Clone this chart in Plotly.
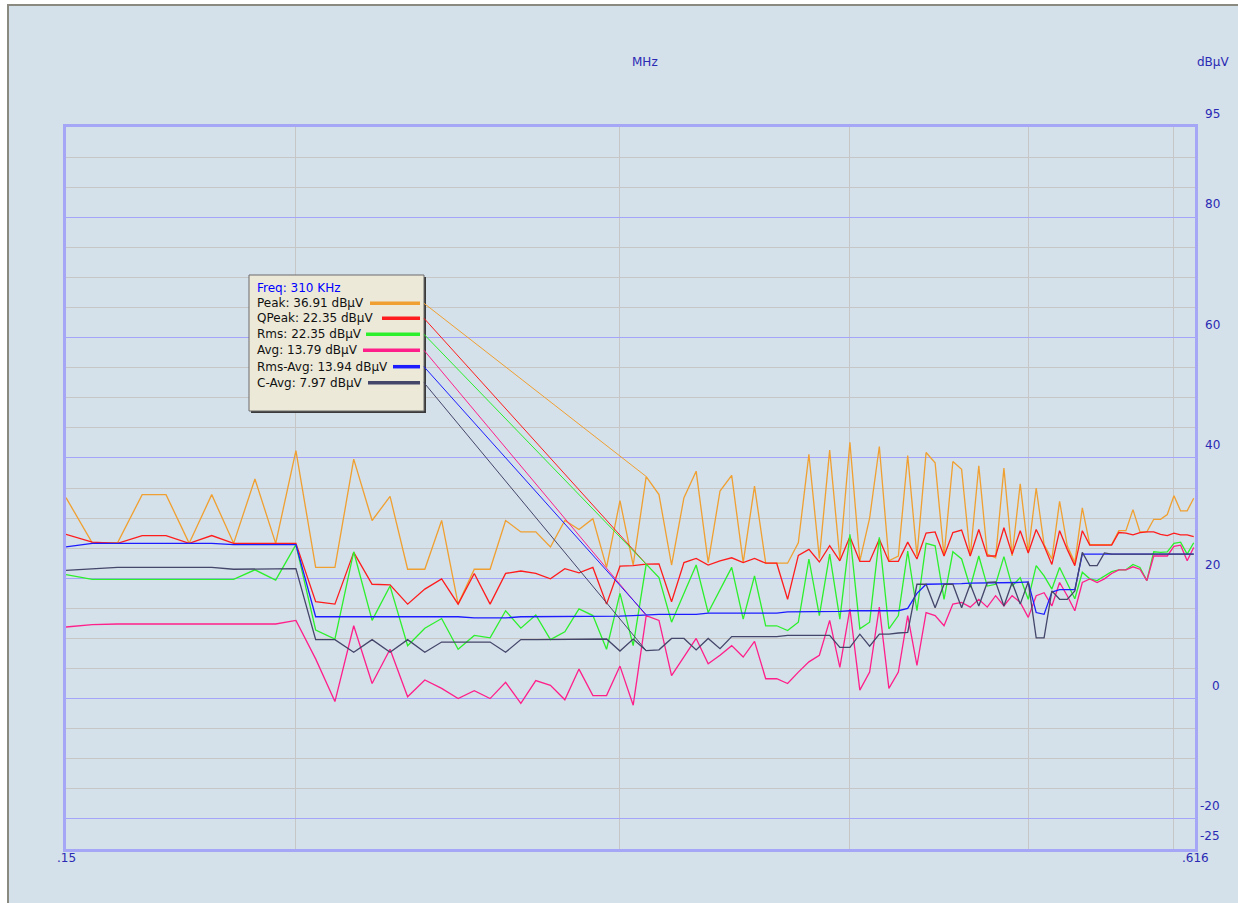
import math
import plotly.graph_objects as go

# ---------------- data ----------------
freq_khz = [150, 155, 160, 165, 170, 175, 180, 185, 190, 195,
            200, 205, 210, 215, 220, 225, 230, 235, 240, 245,
            250, 255, 260, 265, 270, 275, 280, 285, 290, 295,
            300, 305, 310, 315, 320, 325, 330, 335, 340, 345,
            350, 355, 360, 365, 370, 375, 380, 385, 390, 395,
            400, 405, 410, 415, 420, 425, 430, 435, 440, 445,
            450, 455, 460, 465, 470, 475, 480, 485, 490, 495,
            500, 505, 510, 515, 520, 525, 530, 535, 540, 545,
            550, 555, 560, 565, 570, 575, 580, 585, 590, 595,
            600, 605, 610, 615]

peak = [33.4, 25.9, 25.9, 33.9, 33.9, 25.8, 33.9, 25.8, 36.5, 25.8,
        41.2, 21.8, 21.8, 39.8, 29.6, 33.6, 21.5, 21.5, 29.6, 15.7,
        21.5, 21.5, 29.6, 27.7, 27.7, 25.2, 29.6, 28.1, 29.9, 21.8,
        32.9, 22.2, 36.91, 33.9, 22.2, 33.4, 37.8, 22.6, 34.5, 37.1,
        22.6, 35.3, 22.5, 22.5, 22.5, 25.9, 40.6, 23.3, 41.3, 23.2,
        42.6, 22.9, 30.0, 41.9, 22.9, 23.7, 40.4, 23.7, 40.9, 39.2,
        23.7, 39.4, 38.1, 23.7, 38.7, 24.0, 23.4, 38.3, 23.7, 35.7,
        24.3, 35.0, 25.6, 23.2, 32.8, 25.4, 22.6, 31.7, 25.6, 25.6,
        25.6, 25.6, 27.9, 27.9, 31.4, 27.7, 27.7, 29.8, 29.8, 30.6,
        33.7, 31.2, 31.2, 33.3]

qpeak = [27.3, 26.0, 25.8, 27.1, 27.1, 25.8, 27.1, 25.8, 25.8, 25.8,
         25.8, 16.1, 15.7, 24.3, 19.0, 18.9, 15.7, 18.2, 19.9, 15.7,
         20.8, 15.7, 20.8, 21.2, 20.8, 19.9, 21.6, 20.9, 21.8, 15.7,
         22.0, 22.1, 22.35, 22.4, 16.1, 22.6, 23.3, 22.2, 22.9, 23.4,
         22.6, 23.3, 22.5, 22.5, 16.5, 23.8, 24.8, 22.7, 25.4, 22.9,
         26.9, 22.8, 22.8, 26.5, 22.8, 22.8, 26.0, 23.2, 27.5, 27.7,
         23.7, 27.6, 28.0, 23.7, 28.1, 23.7, 23.7, 28.4, 24.0, 27.9,
         24.2, 28.1, 25.4, 22.3, 27.9, 24.8, 22.1, 27.9, 25.5, 25.5,
         25.5, 25.5, 27.6, 27.5, 27.2, 27.6, 27.7, 27.7, 27.3, 27.1,
         27.5, 27.2, 27.2, 26.9]

rms = [20.6, 19.8, 19.8, 19.8, 19.8, 19.8, 19.8, 19.8, 21.4, 19.7,
       25.6, 11.4, 9.9, 24.4, 13.0, 18.7, 8.8, 11.7, 13.3, 8.2,
       10.5, 10.1, 14.6, 11.7, 13.9, 9.8, 11.1, 14.9, 13.8, 8.2,
       17.5, 8.8, 22.35, 20.1, 12.7, 17.6, 22.2, 14.3, 18.2, 21.8,
       13.2, 20.4, 12.1, 12.1, 11.3, 12.7, 23.2, 13.8, 24.0, 13.2,
       27.3, 11.6, 12.7, 26.8, 11.6, 13.8, 24.5, 14.6, 25.8, 25.4,
       16.5, 24.4, 23.2, 18.5, 23.7, 18.7, 19.0, 23.6, 18.7, 20.1,
       16.5, 22.1, 20.4, 18.2, 21.8, 19.3, 16.6, 21.0, 19.9, 19.6,
       20.4, 21.1, 21.4, 21.4, 22.3, 21.8, 19.6, 24.4, 24.3, 24.4,
       25.8, 26.0, 24.0, 25.9]

avg = [11.9, 12.3, 12.4, 12.4, 12.4, 12.4, 12.4, 12.4, 12.4, 12.4,
       13.0, 6.6, -0.5, 12.1, 2.5, 8.2, 0.3, 3.1, 1.7, 0.0,
       1.3, 0.0, 2.7, -0.8, 3.0, 2.2, -0.2, 4.9, 0.5, 0.5,
       5.4, -1.1, 13.79, 13.0, 3.8, 6.9, 10.0, 5.8, 7.2, 8.8,
       6.9, 9.5, 3.3, 3.3, 2.5, 4.4, 6.1, 7.2, 13.0, 5.2,
       14.9, 1.4, 4.4, 15.2, 1.7, 4.4, 13.8, 5.5, 14.3, 13.8,
       12.1, 15.7, 16.0, 15.2, 16.5, 15.2, 17.1, 15.4, 17.1, 16.0,
       13.5, 17.1, 17.6, 15.4, 19.3, 17.1, 14.6, 19.3, 19.9, 19.3,
       19.9, 20.8, 21.4, 21.4, 21.9, 21.5, 19.6, 23.7, 23.7, 23.7,
       25.3, 25.5, 22.9, 25.1]

rms_avg = [25.2, 25.8, 25.8, 25.8, 25.8, 25.8, 25.8, 25.6, 25.6, 25.6,
           25.6, 13.6, 13.6, 13.6, 13.6, 13.6, 13.6, 13.6, 13.6, 13.6,
           13.4, 13.4, 13.4, 13.6, 13.6, 13.6, 13.6, 13.7, 13.7, 13.7,
           13.7, 13.8, 13.94, 14.0, 14.0, 14.0, 14.0, 14.2, 14.2, 14.2,
           14.2, 14.2, 14.2, 14.2, 14.4, 14.4, 14.4, 14.4, 14.4, 14.5,
           14.6, 14.6, 14.6, 14.6, 14.6, 14.6, 15.0, 17.5, 19.0, 19.0,
           19.0, 19.0, 19.1, 19.2, 19.2, 19.2, 19.2, 19.3, 19.3, 19.3,
           19.4, 14.3, 14.0, 17.7, 18.1, 18.1, 18.1, 24.0, 24.0, 24.0,
           24.0, 24.0, 24.0, 24.0, 24.0, 24.0, 24.0, 24.0, 24.0, 24.0,
           24.0, 24.0, 24.0, 24.0]

c_avg = [21.3, 21.5, 21.8, 21.8, 21.8, 21.8, 21.8, 21.5, 21.5, 21.5,
         21.6, 9.8, 9.8, 7.7, 9.8, 7.7, 9.8, 7.7, 9.4, 9.4,
         9.4, 9.4, 7.7, 9.8, 9.8, 9.8, 9.8, 9.9, 9.9, 9.9,
         7.9, 9.9, 7.97, 8.1, 10.0, 10.0, 8.1, 10.0, 8.3, 10.3,
         10.3, 10.3, 10.3, 10.3, 10.5, 10.5, 10.5, 10.5, 10.5, 8.5,
         8.5, 10.7, 8.7, 10.7, 10.7, 10.9, 11.0, 19.0, 19.0, 15.1,
         19.0, 19.0, 15.1, 19.0, 15.4, 19.3, 19.4, 15.4, 19.3, 15.7,
         19.4, 10.1, 10.1, 17.9, 16.5, 16.5, 17.9, 24.3, 22.1, 22.1,
         24.2, 24.0, 24.0, 24.0, 24.0, 24.0, 24.0, 24.0, 24.0, 24.0,
         24.0, 24.0, 24.0, 24.0]

series_names = ["Peak", "QPeak", "Rms", "Avg", "Rms-Avg", "C-Avg"]
series_values = [peak, qpeak, rms, avg, rms_avg, c_avg]
series_colors = ["#f0a030", "#ff1c1c", "#2cf02c", "#ff1f8a", "#1c1cff", "#44466a"]

tip_freq_khz = 310
tip_values = [36.91, 22.35, 22.35, 13.79, 13.94, 7.97]

x_grid_vals = [0.2, 0.3, 0.4, 0.5, 0.6]
x_tick_labels = [(0.15, ".15"), (0.616, ".616")]
y_tick_values = [95, 80, 60, 40, 20, 0, -20, -25]
y_major_grid = [-20, 0, 20, 40, 60, 80]
y_minor_grid = [-15, -10, -5, 5, 10, 15, 25, 30, 35, 45, 50, 55, 65, 70, 75, 85, 90]

# ---------------- layout constants ----------------
FIG_W, FIG_H = 1238, 903
L, R, T, B = 66, 43, 127, 54
PW, PH = FIG_W - L - R, FIG_H - T - B
X_MIN, X_MAX = 0.15, 0.616
Y_MIN, Y_MAX = -25, 95
BG = "#d4e0ea"
LABEL_BLUE = "#2a2ab4"
FONT = "DejaVu Sans"


def px_x(px):
    return (px - L) / PW


def px_y(py):
    return (FIG_H - B - py) / PH


def dx(f_mhz):
    return (math.log10(f_mhz) - math.log10(X_MIN)) / (math.log10(X_MAX) - math.log10(X_MIN))


def dy(v):
    return (v - Y_MIN) / (Y_MAX - Y_MIN)


fig = go.Figure()
x_mhz = [f / 1000 for f in freq_khz]
for name, vals, col in zip(series_names, series_values, series_colors):
    fig.add_trace(go.Scatter(x=x_mhz, y=vals, mode="lines", name=name,
                             line=dict(color=col, width=1.3),
                             hoverinfo="skip", showlegend=False))

shapes = []
annotations = []

# outer frame (white strips + gray border)
shapes.append(dict(type="rect", xref="paper", yref="paper", x0=px_x(0), x1=px_x(7), y0=px_y(FIG_H), y1=px_y(0),
                   fillcolor="white", line=dict(width=0), layer="below"))
shapes.append(dict(type="rect", xref="paper", yref="paper", x0=px_x(0), x1=px_x(FIG_W), y0=px_y(4), y1=px_y(0),
                   fillcolor="white", line=dict(width=0), layer="below"))
shapes.append(dict(type="line", xref="paper", yref="paper", x0=px_x(8), x1=px_x(8), y0=px_y(FIG_H), y1=px_y(5),
                   line=dict(color="#8a8a80", width=2)))
shapes.append(dict(type="line", xref="paper", yref="paper", x0=px_x(7), x1=px_x(FIG_W), y0=px_y(5), y1=px_y(5),
                   line=dict(color="#8a8a80", width=2)))

# tooltip box
bx0, by0, bx1, by1 = 249, 275, 424, 411
shapes.append(dict(type="line", xref="paper", yref="paper", x0=px_x(bx1 + 1), x1=px_x(bx1 + 1),
                   y0=px_y(by0 + 2), y1=px_y(by1 + 2), line=dict(color="#3a3a3a", width=2)))
shapes.append(dict(type="line", xref="paper", yref="paper", x0=px_x(bx0 + 2), x1=px_x(bx1 + 2),
                   y0=px_y(by1 + 1), y1=px_y(by1 + 1), line=dict(color="#3a3a3a", width=2)))
shapes.append(dict(type="rect", xref="paper", yref="paper", x0=px_x(bx0), x1=px_x(bx1), y0=px_y(by1), y1=px_y(by0),
                   fillcolor="#ece9d8", line=dict(color="#6a6a6a", width=1)))

row_y = [287.7, 303.3, 318.3, 334.3, 350.3, 366.7, 382.7]
sample_x0 = [370, 382, 366, 363, 393, 368]
annotations.append(dict(text=f"Freq: {tip_freq_khz} KHz", xref="paper", yref="paper", x=px_x(255), y=px_y(row_y[0]),
                        xanchor="left", yanchor="middle", showarrow=False,
                        font=dict(family=FONT, size=12, color="#0000ff")))
tip_x = dx(tip_freq_khz / 1000)
for i, (name, v, col) in enumerate(zip(series_names, tip_values, series_colors)):
    ry = row_y[i + 1]
    annotations.append(dict(text=f"{name}: {v:.2f} dBµV", xref="paper", yref="paper", x=px_x(255), y=px_y(ry),
                            xanchor="left", yanchor="middle", showarrow=False,
                            font=dict(family=FONT, size=12, color="#111111")))
    shapes.append(dict(type="line", xref="paper", yref="paper", x0=px_x(sample_x0[i]), x1=px_x(420),
                       y0=px_y(ry), y1=px_y(ry), line=dict(color=col, width=3.5)))
    shapes.append(dict(type="line", xref="paper", yref="paper", x0=px_x(bx1), x1=tip_x,
                       y0=px_y(ry), y1=dy(v), line=dict(color=col, width=1)))

# axis titles
annotations.append(dict(text="MHz", xref="paper", yref="paper", x=px_x(645), y=px_y(62),
                        xanchor="center", yanchor="middle", showarrow=False,
                        font=dict(family=FONT, size=12, color=LABEL_BLUE)))
annotations.append(dict(text="dBµV", xref="paper", yref="paper", x=px_x(1213), y=px_y(62),
                        xanchor="center", yanchor="middle", showarrow=False,
                        font=dict(family=FONT, size=12, color=LABEL_BLUE)))

# tick labels
for val, lab in x_tick_labels:
    annotations.append(dict(text=lab, xref="paper", yref="paper", x=dx(val), y=px_y(858),
                            xanchor="center", yanchor="middle", showarrow=False,
                            font=dict(family=FONT, size=12, color=LABEL_BLUE)))
for v in y_tick_values:
    annotations.append(dict(text=str(v), xref="paper", yref="y", x=px_x(1222), y=v, yshift=13,
                            xanchor="right", yanchor="middle", showarrow=False,
                            font=dict(family=FONT, size=12, color=LABEL_BLUE)))

fig.update_layout(
    width=FIG_W, height=FIG_H,
    margin=dict(l=L, r=R, t=T, b=B, pad=0),
    paper_bgcolor=BG, plot_bgcolor=BG,
    shapes=shapes, annotations=annotations,
    showlegend=False,
    xaxis=dict(type="log", range=[math.log10(X_MIN), math.log10(X_MAX)],
               tickmode="array", tickvals=x_grid_vals, showticklabels=False, ticks="",
               showgrid=True, gridcolor="#c6c6c6", gridwidth=1.4,
               showline=True, linecolor="#a6a6f6", linewidth=3, mirror=True, zeroline=False),
    yaxis=dict(range=[Y_MIN, Y_MAX], side="right",
               tickmode="array", tickvals=y_major_grid, showticklabels=False, ticks="",
               showgrid=True, gridcolor="#a4a4f8", gridwidth=1.2,
               minor=dict(tickmode="array", tickvals=y_minor_grid, showgrid=True,
                          gridcolor="#c6c6c6", gridwidth=1.4, ticks=""),
               showline=True, linecolor="#a6a6f6", linewidth=3, mirror=True, zeroline=False),
)

fig.write_html("out.html", config={"displayModeBar": False},
               post_script="document.body.style.margin='0px';document.body.style.overflow='hidden';")
